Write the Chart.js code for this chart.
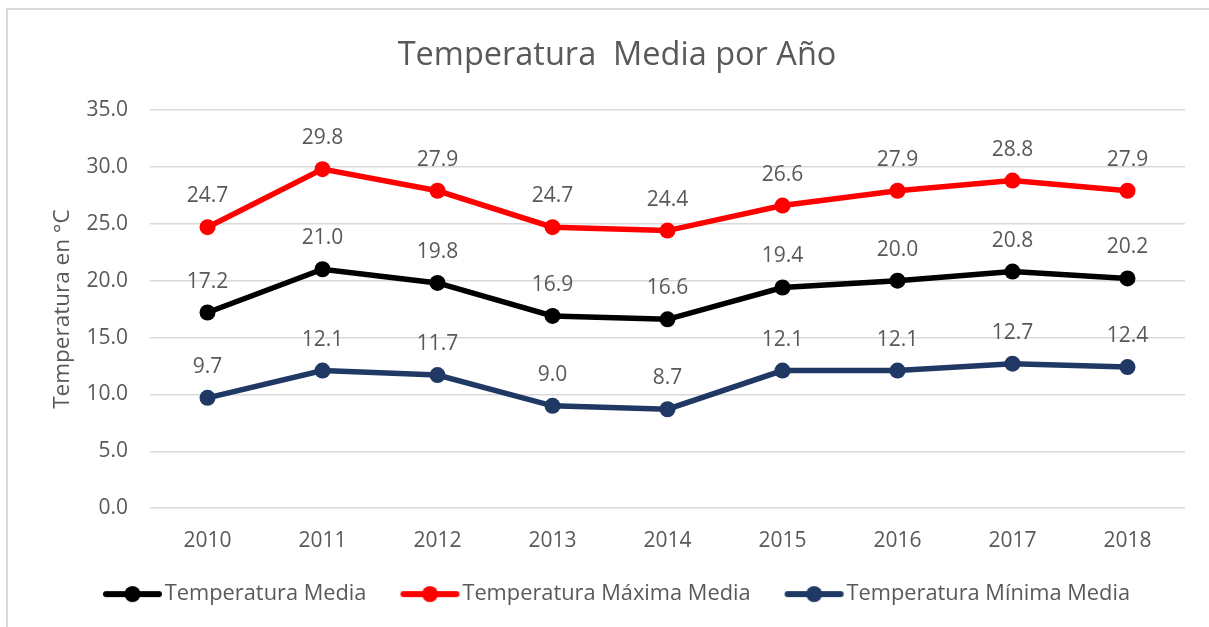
<!DOCTYPE html>
<html>
<head>
<meta charset="utf-8">
<script src="https://cdn.jsdelivr.net/npm/chart.js@4/dist/chart.umd.min.js"></script>
<style>
  html, body { margin: 0; padding: 0; background: #fff; }
  #wrap { width: 1209px; height: 627px; }
</style>
</head>
<body>
<div id="wrap"><canvas id="c" width="1209" height="627"></canvas></div>
<script>
// Años y series de temperatura (°C)
const years = ['2010', '2011', '2012', '2013', '2014', '2015', '2016', '2017', '2018'];
const tempMedia  = [17.2, 21.0, 19.8, 16.9, 16.6, 19.4, 20.0, 20.8, 20.2];
const tempMaxima = [24.7, 29.8, 27.9, 24.7, 24.4, 26.6, 27.9, 28.8, 27.9];
const tempMinima = [9.7, 12.1, 11.7, 9.0, 8.7, 12.1, 12.1, 12.7, 12.4];
const seriesNames = ['Temperatura Media', 'Temperatura Máxima Media', 'Temperatura Mínima Media'];
const seriesColors = ['#000000', '#FF0000', '#1F3864'];

const FONT = '"Open Sans", "Liberation Sans", sans-serif';
const TEXT = '#595959';
const LEGEND_SIZE = 21.8;
const LEGEND_BOX = 50;

// Icono de leyenda: segmento de línea con marcador circular
function legendIcon(color) {
  const c = document.createElement('canvas');
  c.width = 68; c.height = 18;
  const g = c.getContext('2d');
  g.strokeStyle = color; g.lineWidth = 6; g.lineCap = 'round';
  g.beginPath(); g.moveTo(11, 9); g.lineTo(64, 9); g.stroke();
  g.fillStyle = color;
  g.beginPath(); g.arc(37.5, 9, 8, 0, Math.PI * 2); g.fill();
  return c;
}

// Etiquetas de valor sobre cada punto
const valueLabels = {
  id: 'valueLabels',
  afterDatasetsDraw(chart) {
    const ctx = chart.ctx;
    ctx.save();
    ctx.font = '21px ' + FONT;
    ctx.fillStyle = TEXT;
    ctx.textAlign = 'center';
    ctx.textBaseline = 'alphabetic';
    chart.data.datasets.forEach((ds, i) => {
      chart.getDatasetMeta(i).data.forEach((pt, j) => {
        ctx.fillText(ds.data[j].toFixed(1), pt.x, pt.y - 25);
      });
    });
    ctx.restore();
  }
};

// Marco exterior del gráfico
const frame = {
  id: 'frame',
  beforeDraw(chart) {
    const ctx = chart.ctx;
    ctx.save();
    ctx.fillStyle = '#fff';
    ctx.fillRect(0, 0, chart.width, chart.height);
    ctx.strokeStyle = '#D9D9D9';
    ctx.lineWidth = 2;
    ctx.strokeRect(7, 9, 1300, 700);
    ctx.restore();
  }
};

const datasets = [tempMedia, tempMaxima, tempMinima].map((vals, i) => ({
  label: seriesNames[i],
  data: vals,
  borderColor: seriesColors[i],
  backgroundColor: seriesColors[i],
  borderWidth: 5.5,
  pointRadius: 8,
  pointHoverRadius: 8,
  pointBorderWidth: 0,
  tension: 0
}));

new Chart(document.getElementById('c'), {
  type: 'line',
  data: { labels: years, datasets },
  options: {
    responsive: false,
    animation: false,
    layout: { padding: { top: 22, left: 49, right: 24, bottom: 12 } },
    plugins: {
      title: {
        display: true,
        text: 'Temperatura  Media por Año',
        color: TEXT,
        font: { family: FONT, size: 32.5, weight: 'normal' },
        padding: { top: 14, bottom: 35 }
      },
      legend: {
        position: 'bottom',
        labels: {
          usePointStyle: true,
          pointStyleWidth: LEGEND_BOX,
          color: TEXT,
          font: { family: FONT, size: LEGEND_SIZE },
          padding: 35,
          generateLabels(chart) {
            return chart.data.datasets.map((ds, i) => ({
              text: ds.label,
              fillStyle: ds.borderColor,
              strokeStyle: ds.borderColor,
              lineWidth: 0,
              pointStyle: legendIcon(ds.borderColor),
              hidden: false,
              datasetIndex: i,
              fontColor: TEXT
            }));
          }
        }
      },
      tooltip: { enabled: false }
    },
    scales: {
      x: {
        offset: true,
        grid: { display: false, drawTicks: false },
        border: { display: false },
        ticks: { color: TEXT, font: { family: FONT, size: 21 }, padding: 20 },
        afterFit(s) { s.height = 40; }
      },
      y: {
        min: 0, max: 35,
        grid: { color: '#D9D9D9', lineWidth: 1.5, drawTicks: false },
        border: { display: false },
        ticks: {
          stepSize: 5,
          color: TEXT,
          font: { family: FONT, size: 21 },
          padding: 22,
          callback: v => v.toFixed(1)
        },
        title: {
          display: true,
          text: 'Temperatura en °C',
          color: TEXT,
          font: { family: FONT, size: 22.5 },
          padding: 0
        },
        afterFit(s) { s.width = 101; }
      }
    }
  },
  plugins: [frame, valueLabels]
});
</script>
</body>
</html>
